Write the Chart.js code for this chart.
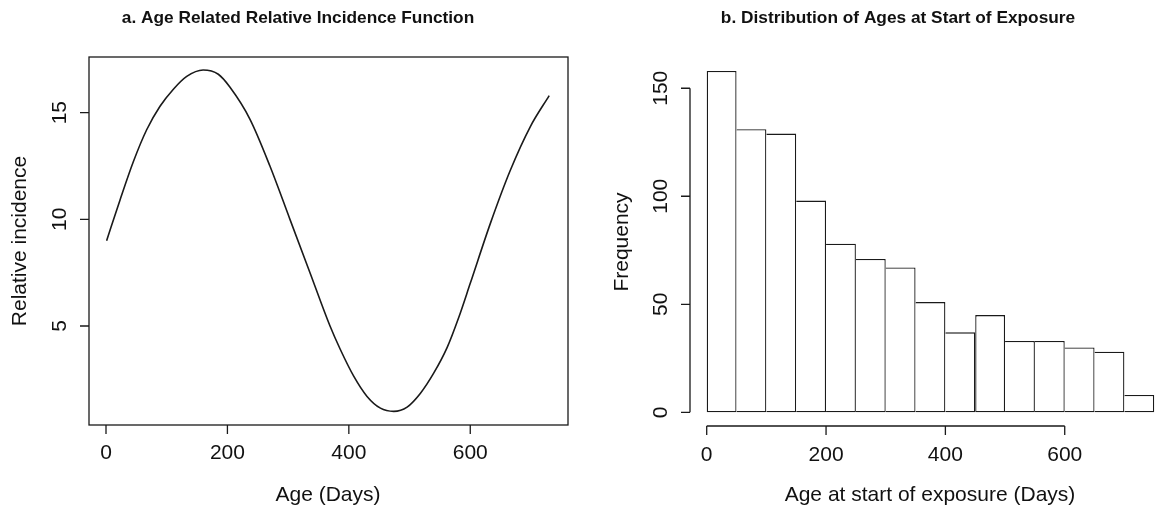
<!DOCTYPE html>
<html>
<head>
<meta charset="utf-8">
<title>Age related incidence</title>
<script src="https://cdn.jsdelivr.net/npm/chart.js@4.4.0/dist/chart.umd.min.js"></script>
<style>
  body { margin: 0; background: #fff; }
  canvas { position: absolute; top: 0; }
</style>
</head>
<body>
<canvas id="incidenceChart" width="580" height="507" style="left:0"></canvas>
<canvas id="exposureChart" width="579" height="507" style="left:580px"></canvas>
<script>
// --- panel a: relative incidence by age ---
const ageDays = [1, 23, 45, 67, 89, 111, 133, 160, 185, 204, 237, 270, 303, 336, 369, 386,
                 408, 430, 452, 474, 496, 518, 540, 562, 581, 600, 633, 666, 699, 730];
const relIncidence = [9.0, 10.9, 12.7, 14.2, 15.3, 16.1, 16.7, 17.0, 16.8, 16.2, 14.7, 12.5, 10.0, 7.5, 5.0, 3.9,
                      2.65, 1.7, 1.15, 1.0, 1.2, 1.85, 2.8, 4.0, 5.4, 7.0, 9.8, 12.3, 14.35, 15.8];
const ageTicks = [0, 200, 400, 600];
const incidenceTicks = [5, 10, 15];

// --- panel b: histogram of ages at start of exposure ---
const binEdges = [0, 50, 100, 150, 200, 250, 300, 350, 400, 450, 500, 550, 600, 650, 700, 750];
const frequencies = [158, 131, 129, 98, 78, 71, 67, 51, 37, 45, 33, 33, 30, 28, 8];
const exposureTicks = [0, 200, 400, 600];
const frequencyTicks = [0, 50, 100, 150];

const FONT = "'Liberation Sans', Arial, sans-serif";
const INK = '#1a1a1a';

// base-graphics look: box / short axis lines, outward ticks, rotated y labels
const baseAxes = {
  id: 'baseAxes',
  afterDraw(chart, args, o) {
    const ctx = chart.ctx;
    const a = chart.chartArea;
    const xs = chart.scales.x, ys = chart.scales.y;
    const tl = o.tickLength;
    ctx.save();
    ctx.strokeStyle = INK;
    ctx.fillStyle = '#111';
    ctx.lineWidth = 1.3;

    if (o.box) {
      ctx.strokeRect(a.left, a.top, a.width, a.height);
    } else {
      const xt = o.xTicks, yt = o.yTicks;
      ctx.beginPath();
      ctx.moveTo(xs.getPixelForValue(xt[0]), a.bottom);
      ctx.lineTo(xs.getPixelForValue(xt[xt.length - 1]), a.bottom);
      ctx.moveTo(a.left, ys.getPixelForValue(yt[0]));
      ctx.lineTo(a.left, ys.getPixelForValue(yt[yt.length - 1]));
      ctx.stroke();
    }

    // tick marks
    ctx.beginPath();
    o.xTicks.forEach(v => {
      const px = xs.getPixelForValue(v);
      ctx.moveTo(px, a.bottom);
      ctx.lineTo(px, a.bottom + tl);
    });
    o.yTicks.forEach(v => {
      const py = ys.getPixelForValue(v);
      ctx.moveTo(a.left, py);
      ctx.lineTo(a.left - tl, py);
    });
    ctx.stroke();

    // tick labels
    ctx.font = '21px ' + FONT;
    ctx.textAlign = 'center';
    ctx.textBaseline = 'middle';
    o.xTicks.forEach(v => ctx.fillText(String(v), xs.getPixelForValue(v), o.xLabelY));
    o.yTicks.forEach(v => {
      ctx.save();
      ctx.translate(o.yLabelX, ys.getPixelForValue(v));
      ctx.rotate(-Math.PI / 2);
      ctx.fillText(String(v), 0, 0);
      ctx.restore();
    });

    // axis titles
    ctx.fillText(o.xTitle, o.xTitleX, o.xTitleY);
    ctx.save();
    ctx.translate(o.yTitleX, (a.top + a.bottom) / 2);
    ctx.rotate(-Math.PI / 2);
    ctx.fillText(o.yTitle, 0, 0);
    ctx.restore();

    // main title
    ctx.font = 'bold 17.3px ' + FONT;
    ctx.fillText(o.title, o.titleX, o.titleY);
    ctx.restore();
  }
};

Chart.register(baseAxes);

const hiddenAxis = (min, max) => ({ type: 'linear', display: false, offset: false, min: min, max: max });

// panel a
new Chart(document.getElementById('incidenceChart'), {
  type: 'line',
  data: {
    datasets: [{
      data: ageDays.map((d, i) => ({ x: d, y: relIncidence[i] })),
      borderColor: INK,
      borderWidth: 1.6,
      pointRadius: 0,
      cubicInterpolationMode: 'monotone',
      fill: false
    }]
  },
  options: {
    responsive: false,
    animation: false,
    events: [],
    layout: { padding: { left: 89, top: 57, right: 12, bottom: 82 } },
    scales: {
      x: hiddenAxis(-28, 761),
      y: hiddenAxis(0.36, 17.61)
    },
    plugins: {
      legend: { display: false },
      tooltip: { enabled: false },
      baseAxes: {
        box: true,
        tickLength: 9,
        xTicks: ageTicks,
        yTicks: incidenceTicks,
        xLabelY: 453,
        yLabelX: 60,
        xTitle: 'Age (Days)',
        xTitleX: 328,
        xTitleY: 495,
        yTitle: 'Relative incidence',
        yTitleX: 20,
        title: 'a. Age Related Relative Incidence Function',
        titleX: 298,
        titleY: 18
      }
    }
  }
});

// panel b: shared edges are drawn once, except where a bar rises above its left neighbour
new Chart(document.getElementById('exposureChart'), {
  type: 'bar',
  data: {
    datasets: [{
      data: frequencies.map((f, i) => ({ x: (binEdges[i] + binEdges[i + 1]) / 2, y: f })),
      backgroundColor: '#fff',
      borderColor: INK,
      borderWidth: 1.3,
      borderSkipped: c => (c.dataIndex > 0 && frequencies[c.dataIndex - 1] >= frequencies[c.dataIndex] ? 'left' : false),
      inflateAmount: 0,
      barPercentage: 1,
      categoryPercentage: 1
    }]
  },
  options: {
    responsive: false,
    animation: false,
    events: [],
    layout: { padding: { left: 110, top: 58, right: 0, bottom: 81 } },
    scales: {
      x: hiddenAxis(-28, 758),
      y: hiddenAxis(-6.34, 164)
    },
    plugins: {
      legend: { display: false },
      tooltip: { enabled: false },
      baseAxes: {
        box: false,
        tickLength: 9,
        xTicks: exposureTicks,
        yTicks: frequencyTicks,
        xLabelY: 455,
        yLabelX: 81,
        xTitle: 'Age at start of exposure (Days)',
        xTitleX: 350,
        xTitleY: 495,
        yTitle: 'Frequency',
        yTitleX: 42,
        title: 'b. Distribution of Ages at Start of Exposure',
        titleX: 318,
        titleY: 18
      }
    }
  }
});
</script>
</body>
</html>
